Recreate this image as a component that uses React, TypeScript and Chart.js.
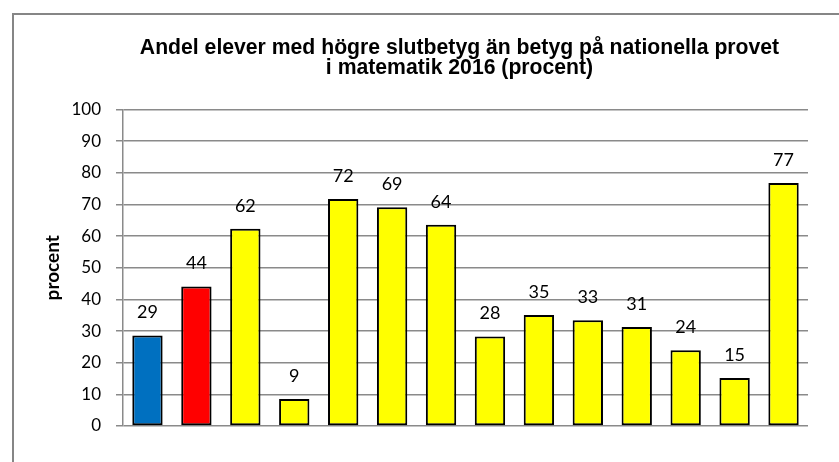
import { useEffect, useRef } from 'react';
import { Chart, registerables } from 'chart.js';

Chart.register(...registerables);

const categories = [
  'Grupp 1', 'Grupp 2', 'Grupp 3', 'Grupp 4', 'Grupp 5', 'Grupp 6', 'Grupp 7',
  'Grupp 8', 'Grupp 9', 'Grupp 10', 'Grupp 11', 'Grupp 12', 'Grupp 13', 'Grupp 14',
];
const values = [28.6, 44.1, 62.3, 8.5, 71.7, 69.1, 63.6, 28.3, 35.1, 33.4, 31.3, 23.9, 15.2, 76.8];
const valueLabels = ['29', '44', '62', '9', '72', '69', '64', '28', '35', '33', '31', '24', '15', '77'];
const barColors = [
  '#0070C0', '#FF0000', '#FFFF00', '#FFFF00', '#FFFF00', '#FFFF00', '#FFFF00',
  '#FFFF00', '#FFFF00', '#FFFF00', '#FFFF00', '#FFFF00', '#FFFF00', '#FFFF00',
];
const yMin = 0;
const yMax = 100;
const yStep = 10;
const titleLines = [
  'Andel elever med högre slutbetyg än betyg på nationella provet',
  'i matematik 2016 (procent)',
];
const yAxisTitle = 'procent';

const GRID = '#8a8a8a';

const framePlugin = {
  id: 'frame',
  beforeDraw(chart: any) {
    const ctx = chart.ctx;
    ctx.save();
    ctx.fillStyle = '#ffffff';
    ctx.fillRect(0, 0, chart.width, chart.height);
    ctx.strokeStyle = '#868686';
    ctx.lineWidth = 2;
    ctx.strokeRect(13, 14, chart.width + 50, chart.height + 50);
    ctx.restore();
  },
};

const valueLabelPlugin = {
  id: 'valueLabels',
  afterDatasetsDraw(chart: any) {
    const ctx = chart.ctx;
    const meta = chart.getDatasetMeta(0);
    ctx.save();
    ctx.fillStyle = '#000000';
    ctx.font = '18px Lato';
    ctx.textAlign = 'center';
    ctx.textBaseline = 'alphabetic';
    meta.data.forEach((bar: any, i: number) => {
      ctx.fillText(valueLabels[i], bar.x, bar.y - 17);
    });
    ctx.restore();
  },
};

export default function App() {
  const canvasRef = useRef<HTMLCanvasElement | null>(null);

  useEffect(() => {
    if (!canvasRef.current) return;
    const chart = new Chart(canvasRef.current, {
      type: 'bar',
      data: {
        labels: categories,
        datasets: [
          {
            data: values,
            backgroundColor: barColors,
            borderColor: '#000000',
            borderWidth: 2,
            borderSkipped: false,
            categoryPercentage: 1,
            barPercentage: 0.62,
          },
        ],
      },
      options: {
        responsive: false,
        animation: false,
        layout: { padding: { left: 40, right: 40, top: 0, bottom: 36 } },
        plugins: {
          legend: { display: false },
          tooltip: { enabled: false },
          title: {
            display: true,
            text: titleLines,
            color: '#000000',
            font: { family: '"Liberation Sans", Arial, sans-serif', size: 21.2, weight: 'bold', lineHeight: 0.96 },
            padding: { top: 38, bottom: 30.8 },
          },
        },
        scales: {
          x: { display: false },
          y: {
            min: yMin,
            max: yMax,
            ticks: {
              stepSize: yStep,
              color: '#000000',
              font: { family: 'Lato', size: 17 },
              padding: 15,
            },
            grid: { color: GRID, lineWidth: 1.5, tickLength: 7 },
            border: { color: GRID, width: 1.5 },
            title: {
              display: true,
              text: yAxisTitle,
              color: '#000000',
              font: { family: 'Lato', size: 19, weight: 'bold' },
              padding: { top: 1, bottom: 0 },
            },
            afterFit(scale: any) {
              scale.width = 83;
            },
          },
          // empty right-hand spacer so the chart frame extends past the picture edge
          yRight: {
            position: 'right',
            display: true,
            min: yMin,
            max: yMax,
            grid: { display: false, drawTicks: false },
            border: { display: false },
            ticks: { display: false },
            afterFit(scale: any) {
              scale.width = 71;
            },
          },
        },
      },
      plugins: [framePlugin, valueLabelPlugin],
    });
    return () => chart.destroy();
  }, []);

  return (
    <div style={{ position: 'fixed', left: 0, top: 0, width: 839, height: 462, overflow: 'hidden', background: '#fff' }}>
      <canvas ref={canvasRef} width={919} height={462} style={{ display: 'block' }} />
    </div>
  );
}
